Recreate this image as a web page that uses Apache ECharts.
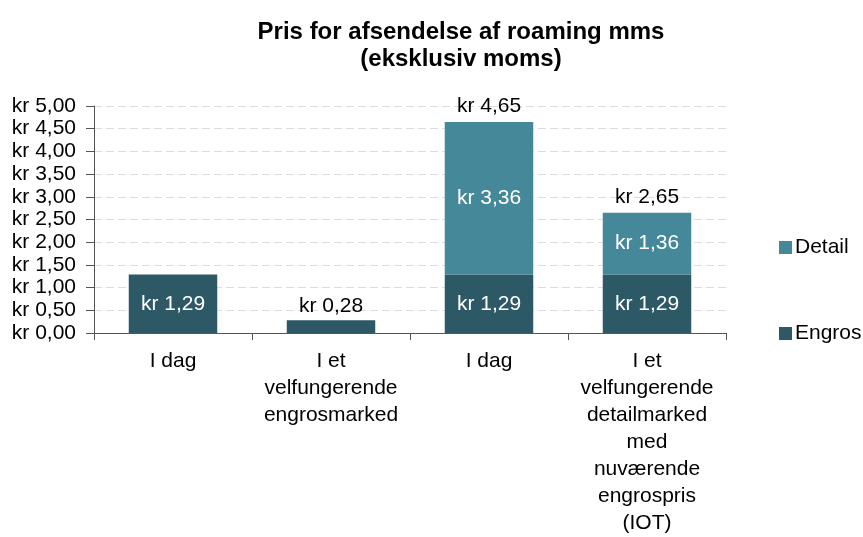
<!DOCTYPE html>
<html>
<head>
<meta charset="utf-8">
<script src="https://cdn.jsdelivr.net/npm/echarts@6/dist/echarts.min.js"></script>
<style>
  html, body { margin: 0; padding: 0; background: #fff; }
  #chart { width: 863px; height: 537px; }
</style>
</head>
<body>
<div id="chart"></div>
<script>
// data
const categories = [
  'I dag',
  'I et\nvelfungerende\nengrosmarked',
  'I dag',
  'I et\nvelfungerende\ndetailmarked\nmed\nnuværende\nengrospris\n(IOT)'
];
const engros = [1.29, 0.28, 1.29, 1.29];
const detail = [null, null, 3.36, 1.36];

const fmt = v => 'kr ' + v.toFixed(2).replace('.', ',');
const font = 'Liberation Sans, Arial, sans-serif';
const fs = 21;

const chart = echarts.init(document.getElementById('chart'));

const engrosData = engros.map((v, i) => {
  // the small bar carries its label above it, in black
  if (detail[i] == null && v < 0.5) {
    return { value: v, label: { position: 'top', color: '#000', distance: 4 } };
  }
  return v;
});
const detailData = detail.map(v => (v == null ? '-' : v));
const totalData = detail.map(v => (v == null ? '-' : 0));

chart.setOption({
  animation: false,
  textStyle: { fontFamily: font },
  title: {
    text: 'Pris for afsendelse af roaming mms\n(eksklusiv moms)',
    left: 456,
    textAlign: 'center',
    top: 14,
    textStyle: { fontSize: 24, fontWeight: 'bold', color: '#000', lineHeight: 27, fontFamily: font }
  },
  legend: {
    orient: 'vertical',
    left: 774,
    top: 232,
    itemGap: 65,
    itemWidth: 13,
    itemHeight: 13,
    icon: 'rect',
    data: ['Detail', 'Engros'],
    textStyle: { fontSize: fs, color: '#000', fontFamily: font, padding: [0, 0, 0, -2] }
  },
  grid: { left: 94, right: 137, top: 106, bottom: 204, containLabel: false },
  xAxis: {
    type: 'category',
    data: categories,
    axisLine: { lineStyle: { color: '#555' } },
    axisTick: { show: true, length: 7, lineStyle: { color: '#555' } },
    axisLabel: { interval: 0, fontSize: fs, color: '#000', lineHeight: 27, margin: 15, fontFamily: font }
  },
  yAxis: {
    type: 'value',
    min: 0,
    max: 5,
    interval: 0.5,
    axisLine: { show: true, lineStyle: { color: '#555' } },
    axisTick: { show: true, length: 8, lineStyle: { color: '#555' } },
    axisLabel: { fontSize: fs, color: '#000', margin: 18, formatter: fmt, fontFamily: font },
    splitLine: { lineStyle: { color: '#ddd', type: [8, 4] } }
  },
  series: [
    {
      name: 'Engros',
      type: 'bar',
      stack: 'pris',
      barWidth: '56%',
      itemStyle: { color: '#2D5966' },
      label: {
        show: true, position: 'inside', color: '#fff', fontSize: fs, fontFamily: font,
        formatter: p => fmt(p.value)
      },
      data: engrosData
    },
    {
      name: 'Detail',
      type: 'bar',
      stack: 'pris',
      itemStyle: { color: '#45889A' },
      label: {
        show: true, position: 'inside', color: '#fff', fontSize: fs, fontFamily: font,
        formatter: p => fmt(p.value)
      },
      data: detailData
    },
    {
      name: 'Total',
      type: 'bar',
      stack: 'pris',
      itemStyle: { color: 'transparent' },
      label: {
        show: true, position: 'top', color: '#000', fontSize: fs, distance: 5, fontFamily: font,
        formatter: p => fmt(engros[p.dataIndex] + detail[p.dataIndex])
      },
      data: totalData
    }
  ]
});
</script>
</body>
</html>
